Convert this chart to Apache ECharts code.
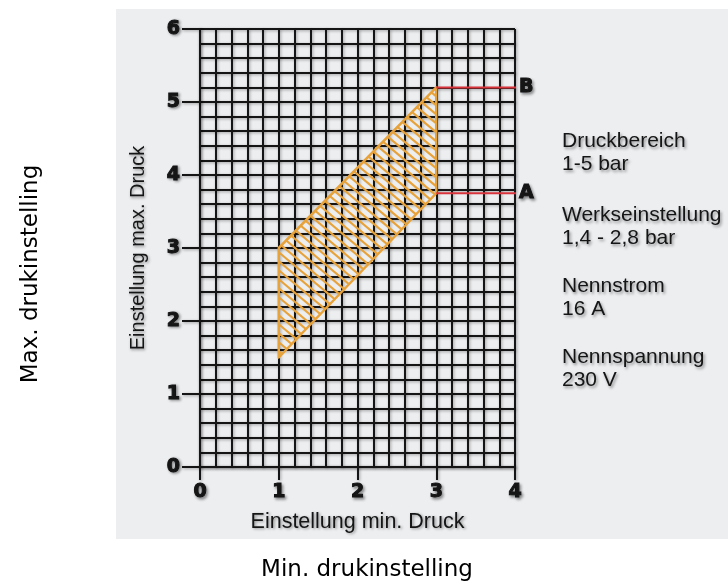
<!DOCTYPE html>
<html>
<head>
<meta charset="utf-8">
<script src="https://cdn.jsdelivr.net/npm/echarts@6/dist/echarts.min.js"></script>
<style>
  html, body { margin: 0; padding: 0; background: #fff; }
  #pressureChart { width: 728px; height: 585px; }
</style>
</head>
<body>
<div id="pressureChart"></div>
<script>
// hatched setting range: corners (min. Druck, max. Druck)
const zoneX = [1, 3, 3, 1];
const zoneY = [1.5, 3.75, 5.2, 3.0];

// red marker lines B and A
const markerNames = ['B', 'A'];
const markerLevels = [5.2, 3.75];
const markerFrom = 3;
const markerTo = 4.23;

// text block on the right
const infoTitles = ['Druckbereich', 'Werkseinstellung', 'Nennstrom', 'Nennspannung'];
const infoValues = ['1-5 bar', '1,4 - 2,8 bar', '16 A', '230 V'];
const infoTop = [142, 216, 287, 358];

const ink = '#151515';
const orange = '#e8a23a';
const shadow = {
  textShadowColor: 'rgba(0,0,0,0.4)',
  textShadowBlur: 3,
  textShadowOffsetX: 1.5,
  textShadowOffsetY: 1.5
};
const gridLine = {
  color: ink,
  width: 2,
  shadowColor: 'rgba(0,0,0,0.35)',
  shadowBlur: 3,
  shadowOffsetX: 1,
  shadowOffsetY: 1
};
const heavy = {
  color: ink,
  fontFamily: 'DejaVu Sans, sans-serif',
  fontWeight: 'bold',
  fontSize: 19,
  textBorderColor: ink,
  textBorderWidth: 1
};

const chart = echarts.init(document.getElementById('pressureChart'));

const axisCommon = {
  type: 'value',
  interval: 1,
  nameLocation: 'middle',
  nameTextStyle: Object.assign({
    color: ink,
    fontFamily: 'Liberation Sans, Arial, sans-serif'
  }, shadow),
  axisLine: { show: true, lineStyle: gridLine },
  axisTick: { show: true, lineStyle: gridLine },
  axisLabel: Object.assign({}, heavy, shadow),
  splitLine: { show: true, lineStyle: gridLine },
  minorTick: { show: false, splitNumber: 5 },
  minorSplitLine: { show: true, lineStyle: gridLine }
};

const infoText = infoTitles.map((t, i) => ({
  type: 'text',
  left: 562,
  top: infoTop[i] - 12,
  style: Object.assign({
    text: t + '\n' + infoValues[i],
    fill: ink,
    font: '21px "Liberation Sans", Arial, sans-serif',
    lineHeight: 23
  }, shadow)
}));

// hatch: diagonal strokes clipped to the polygon
const renderZone = (params, api) => {
  const pts = zoneX.map((x, i) => api.coord([x, zoneY[i]]));
  const xs = pts.map(p => p[0]);
  const ys = pts.map(p => p[1]);
  const x0 = Math.min(...xs), x1 = Math.max(...xs);
  const y0 = Math.min(...ys), y1 = Math.max(...ys);
  const rise = (x1 - x0) * Math.tan(40 * Math.PI / 180);
  const strokes = [];
  for (let y = y0 - rise; y <= y1; y += 9) {
    strokes.push({
      type: 'line',
      shape: { x1: x0, y1: y, x2: x1, y2: y + rise },
      style: { stroke: orange, lineWidth: 2.2 }
    });
  }
  return {
    type: 'group',
    children: [
      {
        type: 'group',
        clipPath: { type: 'polygon', shape: { points: pts } },
        children: strokes
      },
      {
        type: 'polygon',
        shape: { points: pts },
        style: { fill: 'none', stroke: orange, lineWidth: 2.5, lineJoin: 'round' }
      }
    ]
  };
};

const option = {
  backgroundColor: '#fff',
  animation: false,
  grid: { left: 200, right: 213, top: 29, bottom: 118 },
  xAxis: Object.assign({}, axisCommon, {
    min: 0,
    max: 4,
    name: 'Einstellung min. Druck',
    nameGap: 44,
    nameTextStyle: Object.assign({}, axisCommon.nameTextStyle, { fontSize: 21.5 }),
    axisTick: { show: true, length: 13, lineStyle: gridLine },
    axisLabel: Object.assign({}, axisCommon.axisLabel, { margin: 16 })
  }),
  yAxis: Object.assign({}, axisCommon, {
    min: 0,
    max: 6,
    name: 'Einstellung max. Druck',
    nameGap: 52,
    nameTextStyle: Object.assign({}, axisCommon.nameTextStyle, { fontSize: 20 }),
    axisTick: { show: true, length: 18, lineStyle: gridLine },
    axisLabel: Object.assign({}, axisCommon.axisLabel, { margin: 20 })
  }),
  graphic: [
    {
      type: 'rect',
      z: -10,
      shape: { x: 116, y: 9, width: 612, height: 530 },
      style: { fill: '#eceef0' }
    },
    {
      type: 'text',
      x: 31,
      y: 274,
      rotation: Math.PI / 2,
      style: {
        text: 'Max. drukinstelling',
        fill: '#000',
        font: '23px "DejaVu Sans", sans-serif',
        align: 'center',
        verticalAlign: 'middle'
      }
    },
    {
      type: 'text',
      x: 367,
      y: 570,
      style: {
        text: 'Min. drukinstelling',
        fill: '#000',
        font: '23px "DejaVu Sans", sans-serif',
        align: 'center',
        verticalAlign: 'middle'
      }
    }
  ].concat(infoText),
  series: [
    {
      type: 'custom',
      coordinateSystem: 'cartesian2d',
      silent: true,
      data: [[zoneX[0], zoneY[0]]],
      renderItem: renderZone
    }
  ].concat(markerNames.map((n, i) => ({
    type: 'line',
    name: n,
    clip: false,
    silent: true,
    symbol: 'none',
    data: [[markerFrom, markerLevels[i]], [markerTo, markerLevels[i]]],
    lineStyle: { color: '#d9343c', width: 2 },
    endLabel: Object.assign({
      show: true,
      formatter: n,
      distance: 3
    }, heavy, shadow)
  })))
};

chart.setOption(option);
</script>
</body>
</html>
